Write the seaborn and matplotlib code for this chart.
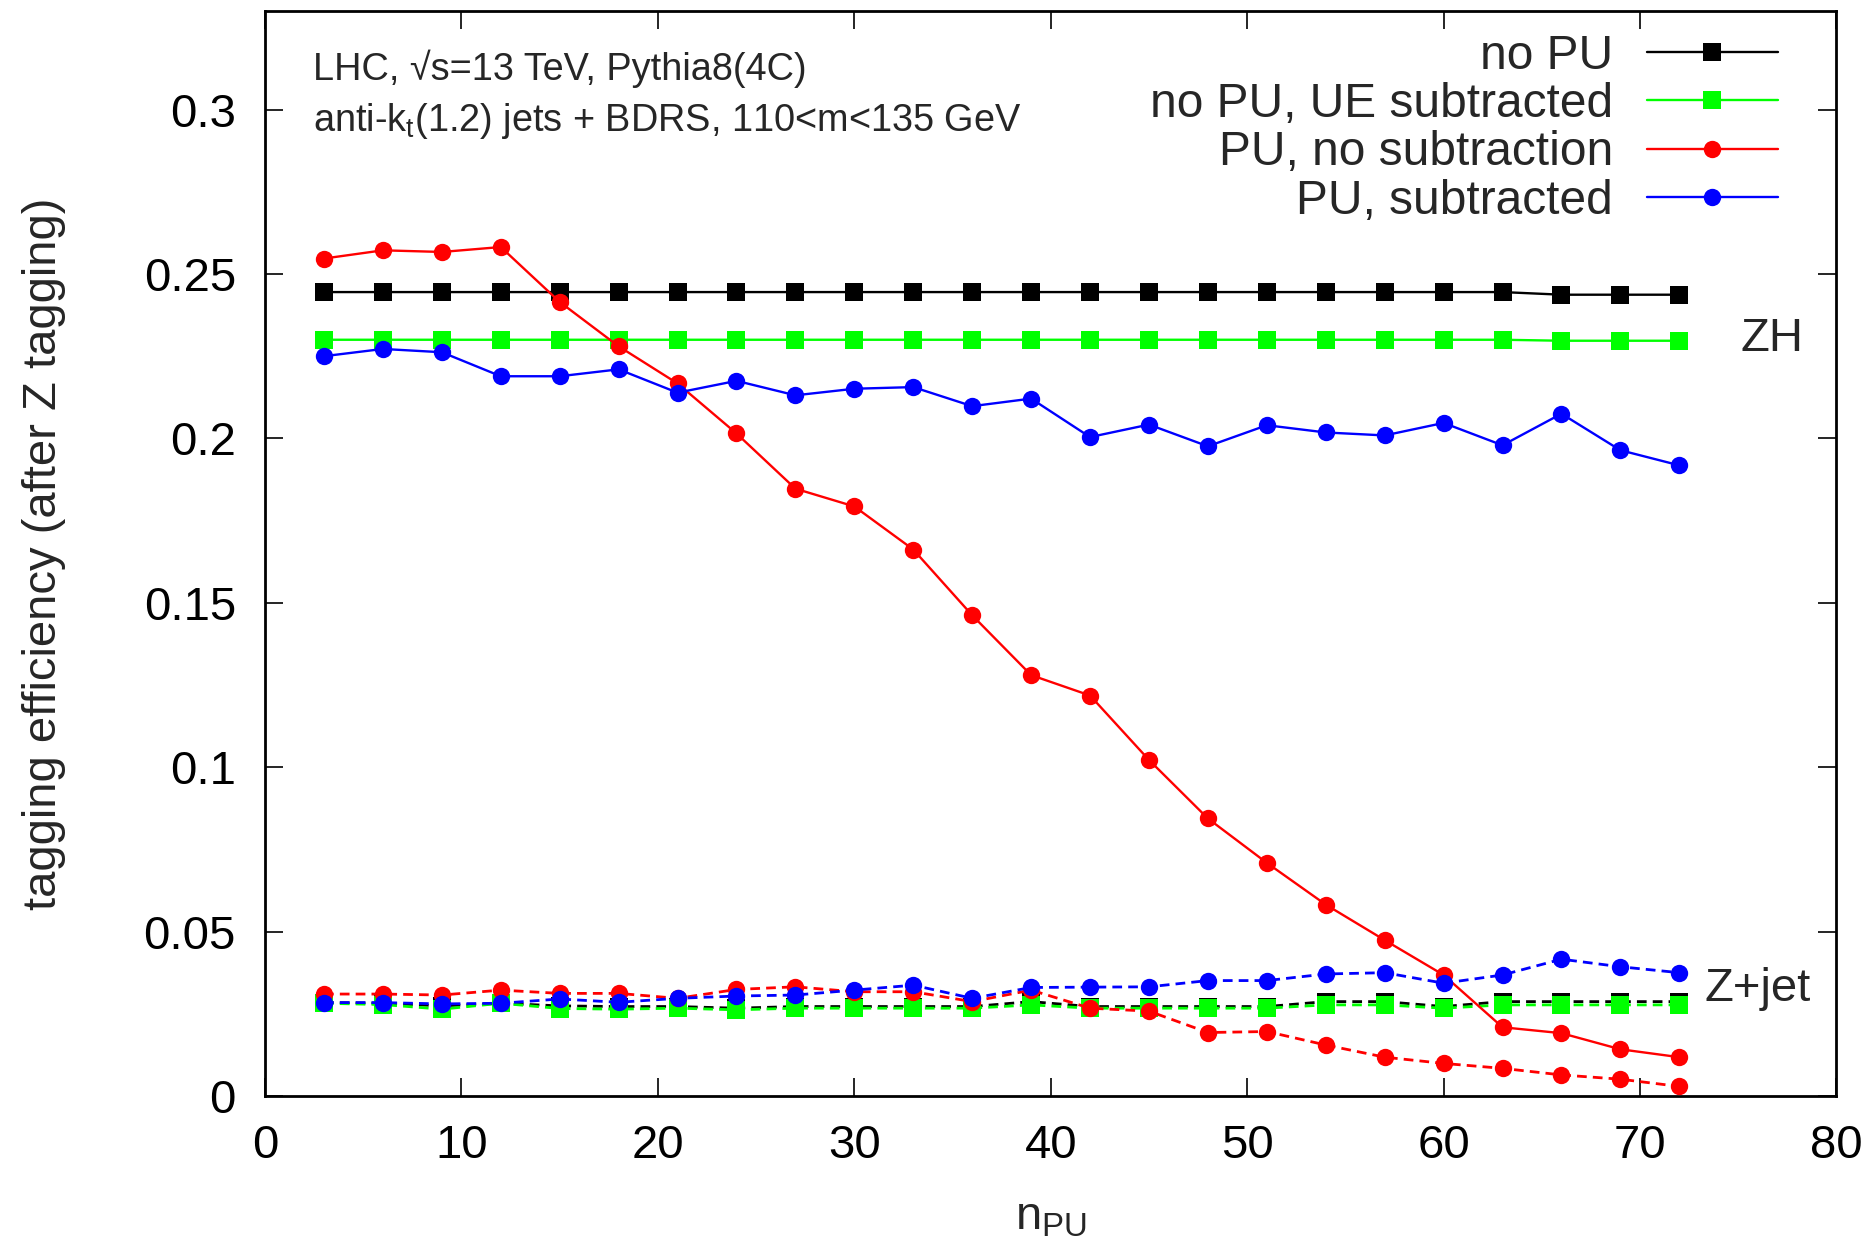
import numpy as np
import pandas as pd
import matplotlib
matplotlib.use("Agg")
import matplotlib.pyplot as plt
import seaborn as sns

# pile-up multiplicity
n_pu = list(range(3, 73, 3))

# ZH signal (solid lines)
zh_nopu = [0.2445] * 21 + [0.2437, 0.2437, 0.2437]
zh_nopu_ue = [0.2300] * 21 + [0.2297, 0.2297, 0.2297]
zh_pu_nosub = [0.2547, 0.2572, 0.2567, 0.2582, 0.2415, 0.2280, 0.2167, 0.2015,
               0.1847, 0.1793, 0.1662, 0.1462, 0.1280, 0.1218, 0.1022, 0.0844,
               0.0709, 0.0582, 0.0474, 0.0368, 0.0209, 0.0191, 0.0142, 0.0118]
zh_pu_sub = [0.2250, 0.2272, 0.2262, 0.2189, 0.2189, 0.2210, 0.2139, 0.2175,
             0.2131, 0.2151, 0.2156, 0.2098, 0.2121, 0.2004, 0.2042, 0.1976,
             0.2040, 0.2018, 0.2009, 0.2047, 0.1979, 0.2075, 0.1964, 0.1918]

# Z+jet background (dashed lines)
zj_nopu = [0.0284, 0.0282, 0.0274, 0.0282, 0.0274, 0.0272, 0.0272, 0.0267,
           0.0272, 0.0272, 0.0272, 0.0272, 0.0287, 0.0272, 0.0272, 0.0272,
           0.0272, 0.0287, 0.0287, 0.0272, 0.0287, 0.0287, 0.0287, 0.0287]
zj_nopu_ue = [0.0282, 0.0278, 0.0264, 0.0282, 0.0266, 0.0264, 0.0267, 0.0262,
              0.0267, 0.0267, 0.0267, 0.0267, 0.0277, 0.0267, 0.0267, 0.0267,
              0.0267, 0.0277, 0.0277, 0.0267, 0.0277, 0.0277, 0.0277, 0.0277]
zj_pu_nosub = [0.0310, 0.0310, 0.0307, 0.0322, 0.0312, 0.0312, 0.0297, 0.0324,
               0.0332, 0.0317, 0.0317, 0.0287, 0.0322, 0.0267, 0.0258, 0.0193,
               0.0196, 0.0155, 0.0118, 0.0099, 0.0084, 0.0064, 0.0051, 0.0029]
zj_pu_sub = [0.0284, 0.0284, 0.0280, 0.0282, 0.0295, 0.0285, 0.0297, 0.0304,
             0.0307, 0.0322, 0.0337, 0.0297, 0.0330, 0.0331, 0.0332, 0.0351,
             0.0351, 0.0371, 0.0375, 0.0343, 0.0368, 0.0416, 0.0393, 0.0375]

labels = ["no PU", "no PU, UE subtracted", "PU, no subtraction", "PU, subtracted"]
colors = ["#000000", "#00ff00", "#ff0000", "#0000ff"]
markers = ["s", "s", "o", "o"]
xticks = [0, 10, 20, 30, 40, 50, 60, 70, 80]
yticks = [0, 0.05, 0.1, 0.15, 0.2, 0.25, 0.3]
ytick_labels = ["0", "0.05", "0.1", "0.15", "0.2", "0.25", "0.3"]

sns.set_style("ticks")
plt.rcParams["font.family"] = ["Liberation Sans", "DejaVu Sans"]
plt.rcParams["mathtext.default"] = "regular"

fig = plt.figure(figsize=(18.72, 12.45), dpi=100)
ax = fig.add_axes([0.1416, 0.1197, 0.8394, 0.8715])

zh_sets = [zh_nopu, zh_nopu_ue, zh_pu_nosub, zh_pu_sub]
zj_sets = [zj_nopu, zj_nopu_ue, zj_pu_nosub, zj_pu_sub]

legend_handles = []
for i in range(4):
    msize = 12.5
    sns.lineplot(x=n_pu, y=zh_sets[i], ax=ax, color=colors[i], marker=markers[i],
                 markersize=msize, markeredgewidth=0, linewidth=1.7,
                 linestyle="-", label=labels[i], legend=False, zorder=3 + i)
    legend_handles.append(ax.get_lines()[-1])
    sns.lineplot(x=n_pu, y=zj_sets[i], ax=ax, color=colors[i], marker=markers[i],
                 markersize=msize, markeredgewidth=0, linewidth=2.0,
                 linestyle=(0, (3.5, 2.2)), legend=False, zorder=3 + i)

ax.set_xlim(0, 80)
ax.set_ylim(0, 0.33)
ax.set_xticks(xticks)
ax.set_xticklabels([str(t) for t in xticks])
ax.set_yticks(yticks)
ax.set_yticklabels(ytick_labels)
ax.tick_params(axis="both", which="major", direction="in", length=13, width=1.2,
               top=True, right=True, labelsize=34, colors="black")
ax.tick_params(axis="y", pad=21)
ax.tick_params(axis="x", pad=20)
for sp in ax.spines.values():
    sp.set_linewidth(2.0)
    sp.set_color("black")

ax.set_xlabel("n$_{PU}$", fontsize=34)
ax.set_ylabel("tagging efficiency (after Z tagging)", fontsize=34)
ax.xaxis.set_label_coords(0.5, -0.092)
ax.yaxis.set_label_coords(-0.127, 0.5)

leg = ax.legend(handles=legend_handles, labels=labels, loc="upper right",
                bbox_to_anchor=(0.963, 0.979), frameon=False, markerfirst=False,
                fontsize=34.5, handlelength=2.75, handletextpad=0.7,
                labelspacing=0.07, borderpad=0, borderaxespad=0)

ax.text(0.0305, 0.9465, "LHC, \u221as=13 TeV, Pythia8(4C)", transform=ax.transAxes,
        fontsize=27.3, ha="left", va="center")
ax.text(0.0305, 0.8986, "anti-k$_t$(1.2) jets + BDRS, 110<m<135 GeV",
        transform=ax.transAxes, fontsize=27.3, ha="left", va="center")

ax.text(75.1, 0.2302, "ZH", fontsize=34, ha="left", va="center")
ax.text(73.3, 0.0325, "Z+jet", fontsize=34, ha="left", va="center")

fig.savefig("out.png", dpi=100)
